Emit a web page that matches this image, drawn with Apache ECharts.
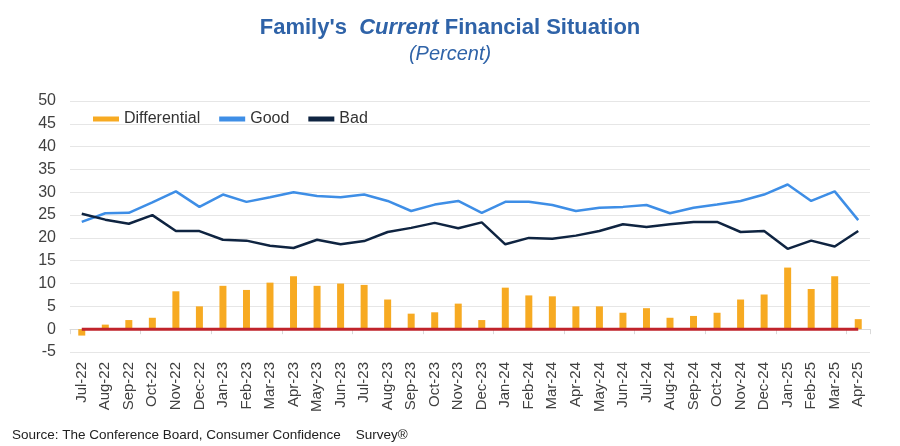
<!DOCTYPE html>
<html>
<head>
<meta charset="utf-8">
<script src="https://cdn.jsdelivr.net/npm/echarts@6/dist/echarts.min.js"></script>
<style>
  html, body { margin: 0; padding: 0; background: #fff; }
  #chart { width: 900px; height: 446px; }
</style>
</head>
<body>
<div id="chart"></div>
<script>
const months = ['Jul-22', 'Aug-22', 'Sep-22', 'Oct-22', 'Nov-22', 'Dec-22',
  'Jan-23', 'Feb-23', 'Mar-23', 'Apr-23', 'May-23', 'Jun-23', 'Jul-23', 'Aug-23',
  'Sep-23', 'Oct-23', 'Nov-23', 'Dec-23', 'Jan-24', 'Feb-24', 'Mar-24', 'Apr-24',
  'May-24', 'Jun-24', 'Jul-24', 'Aug-24', 'Sep-24', 'Oct-24', 'Nov-24', 'Dec-24',
  'Jan-25', 'Feb-25', 'Mar-25', 'Apr-25'];

const differential = [-1.4, 1.0, 2.0, 2.5, 8.3, 5.0, 9.5, 8.6, 10.2, 11.6, 9.5, 10.0,
  9.7, 6.5, 3.4, 3.7, 5.6, 2.0, 9.1, 7.4, 7.2, 5.0, 5.0, 3.6, 4.6, 2.5, 2.9, 3.6,
  6.5, 7.6, 13.5, 8.8, 11.6, 2.2];

const good = [23.5, 25.4, 25.5, 27.8, 30.2, 26.8, 29.5, 27.9, 28.9, 30.0, 29.2, 28.9,
  29.5, 28.1, 25.9, 27.3, 28.1, 25.5, 27.9, 27.9, 27.2, 25.9, 26.6, 26.8, 27.2, 25.4,
  26.6, 27.3, 28.1, 29.5, 31.7, 28.1, 30.2, 23.9];

const bad = [25.3, 24.0, 23.1, 25.0, 21.5, 21.5, 19.6, 19.4, 18.3, 17.8, 19.6, 18.6,
  19.3, 21.3, 22.2, 23.3, 22.1, 23.4, 18.6, 20.0, 19.8, 20.5, 21.5, 23.0, 22.4, 23.0,
  23.5, 23.5, 21.3, 21.5, 17.6, 19.4, 18.1, 21.5];

// zero reference line
const zeroLine = months.map(() => 0);

const yMin = -5;
const yMax = 50;
const yStep = 5;

const font = 'Liberation Sans, Arial, sans-serif';
const chart = echarts.init(document.getElementById('chart'));

const option = {
  animation: false,
  textStyle: { fontFamily: font },
  title: {
    left: 'center',
    top: 12,
    itemGap: 5,
    text: "{a|Family's  }{b|Current}{a| Financial Situation}",
    textStyle: {
      rich: {
        a: { fontSize: 22, fontWeight: 'bold', color: '#2F63A8', fontFamily: font },
        b: { fontSize: 22, fontWeight: 'bold', fontStyle: 'italic', color: '#2F63A8', fontFamily: font }
      }
    },
    subtext: '(Percent)',
    subtextStyle: {
      fontSize: 20,
      fontStyle: 'italic',
      color: '#2F63A8',
      fontFamily: font
    }
  },
  graphic: [{
    type: 'text',
    left: 12,
    top: 428,
    style: {
      text: 'Source: The Conference Board, Consumer Confidence    Survey®',
      fontSize: 13.5,
      fill: '#222',
      fontFamily: font
    }
  }],
  legend: {
    left: 88,
    top: 106,
    itemWidth: 26,
    itemHeight: 5,
    itemGap: 19,
    textStyle: { fontSize: 16, color: '#333' },
    data: [
      { name: 'Differential', icon: 'rect' },
      { name: 'Good', icon: 'rect' },
      { name: 'Bad', icon: 'rect' }
    ]
  },
  grid: { left: 70, right: 30, top: 101, bottom: 94 },
  xAxis: [{
    type: 'category',
    data: months,
    axisLine: { show: false, onZero: false },
    axisTick: { show: false },
    axisLabel: { rotate: 90, fontSize: 15, color: '#404040', margin: 10, interval: 0 }
  }, {
    type: 'category',
    data: months,
    position: 'bottom',
    axisLine: { show: true, onZero: true, lineStyle: { color: '#d9d9d9', width: 1 } },
    axisTick: { show: true, length: 5, lineStyle: { color: '#d9d9d9' } },
    axisLabel: { show: false }
  }],
  yAxis: {
    type: 'value',
    min: yMin,
    max: yMax,
    interval: yStep,
    axisLine: { show: false },
    axisTick: { show: false },
    axisLabel: { fontSize: 16, color: '#404040', margin: 14 },
    splitLine: { lineStyle: { color: '#e6e6e6', width: 1 } }
  },
  series: [{
    name: 'Differential',
    type: 'bar',
    data: differential,
    barWidth: 7,
    itemStyle: { color: '#F7AA22' }
  }, {
    name: 'Good',
    type: 'line',
    data: good,
    symbol: 'none',
    lineStyle: { color: '#3E8EE6', width: 2.5 },
    itemStyle: { color: '#3E8EE6' }
  }, {
    name: 'Bad',
    type: 'line',
    data: bad,
    symbol: 'none',
    lineStyle: { color: '#0F2441', width: 2.5 },
    itemStyle: { color: '#0F2441' }
  }, {
    name: 'Zero',
    type: 'line',
    data: zeroLine,
    symbol: 'none',
    lineStyle: { color: '#C0232B', width: 3 },
    z: 5
  }]
};

chart.setOption(option);
</script>
</body>
</html>
